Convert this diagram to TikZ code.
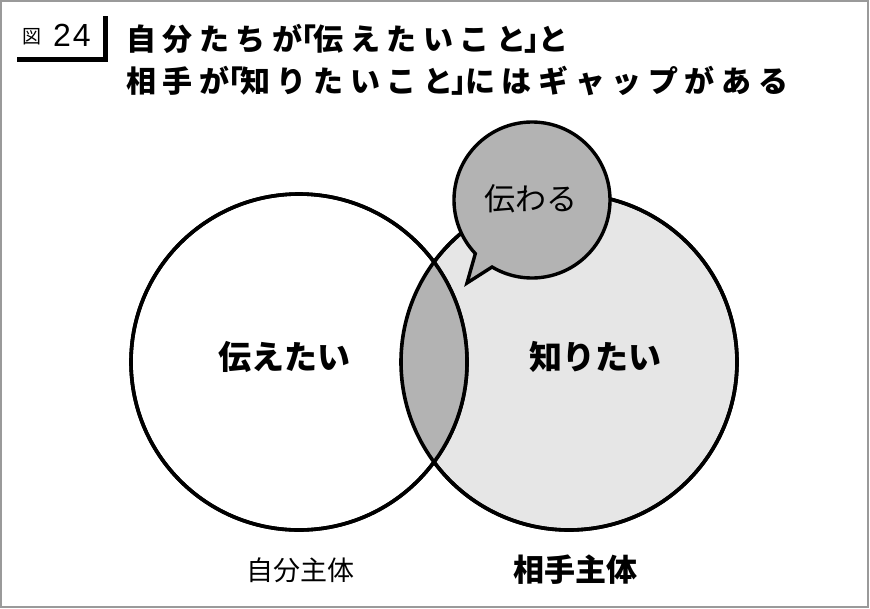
\documentclass[tikz,border=0pt]{standalone}
\usepackage{fontspec}
\usetikzlibrary{calc}
\setmainfont{Noto Sans CJK JP}
\newfontfamily\latinsans{Liberation Sans}
\definecolor{lightfill}{HTML}{E6E6E6}
\definecolor{midfill}{HTML}{B3B3B3}
\definecolor{framegray}{HTML}{9A9A9A}
\newcommand\openbr{\hspace{-16pt}「\hspace{-3pt}}
\newcommand\closebr{\hspace{-2pt}」\hspace{-16pt}}
\tikzset{
  venn/.style={circle, minimum size=336pt, inner sep=0pt, draw=black, line width=3.6pt},
  inlabel/.style={font=\fontsize{33}{36}\selectfont\bfseries, inner sep=0pt},
  titletext/.style={font=\fontsize{30}{32}\selectfont\bfseries\addfontfeature{LetterSpace=22}, inner sep=0pt, anchor=west},
}
\begin{document}
\begin{tikzpicture}[x=1pt,y=-1pt]
\useasboundingbox (0,0) rectangle (870,608);
\fill[white] (0,0) rectangle (870,608);
\draw[framegray, line width=1.5pt] (1,1) rectangle (868,607);
% title
\node[inner sep=0pt, font=\fontsize{19}{20}\selectfont] (zu) at (31.5,36.5) {図};
\node[inner sep=0pt, font=\latinsans\fontsize{32}{33}\selectfont\addfontfeature{LetterSpace=6}] (num) at (72,35.5) {24};
\draw[line width=5pt, line join=miter] (17,59.5) -| (105.5,16);
\node[titletext] (t1) at (126,38.5) {自分たちが\openbr 伝えたいこと\closebr と};
\node[titletext] (t2) at (126,80.5) {相手が\openbr 知りたいこと\closebr にはギャップがある};
% circles
\node[venn, fill=lightfill] (R) at (569,362) {};
\node[venn, fill=white] (L) at (299,362) {};
\begin{scope}
  \clip (L.center) circle[radius=168pt];
  \fill[midfill] (R.center) circle[radius=168pt];
\end{scope}
\draw[line width=3.6pt] (L.center) circle[radius=168pt];
\draw[line width=3.6pt] (R.center) circle[radius=168pt];
% bubble
\coordinate (bc) at (532,200);
\coordinate (tip) at (467,283);
\draw[fill=midfill, line width=3.4pt, line join=miter] (tip) -- ($(bc)+(223.4:78pt)$) arc[start angle=223.4, end angle=-120.8, radius=78pt] -- cycle;
\node[inner sep=0pt, font=\fontsize{31}{34}\selectfont] (tsu) at (531,199) {伝わる};
% labels
\node[inlabel] (ltext) at (284,357) {伝えたい};
\node[inlabel] (rtext) at (595,357) {知りたい};
\node[inner sep=0pt, font=\fontsize{27}{30}\selectfont] (lsub) at (300,570) {自分主体};
\node[inner sep=0pt, font=\fontsize{31}{34}\selectfont\bfseries] (rsub) at (575,570) {相手主体};
\end{tikzpicture}
\end{document}
